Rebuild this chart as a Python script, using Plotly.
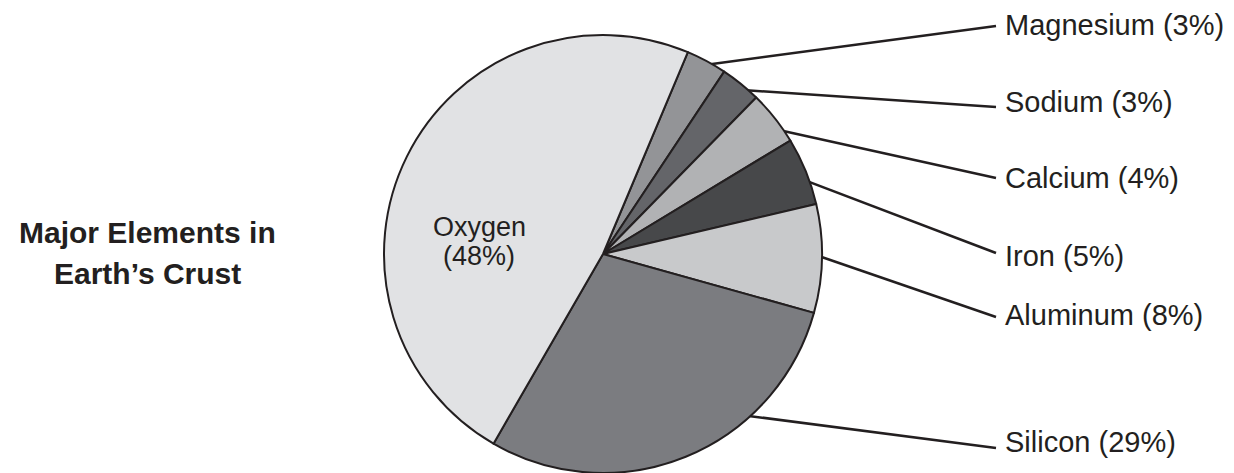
import numpy as np
import plotly.graph_objects as go

# Composition of Earth's crust, by mass
elements = ["Magnesium", "Sodium", "Calcium", "Iron", "Aluminum", "Silicon", "Oxygen"]
percent = [3, 3, 4, 5, 8, 29, 48]
slice_colors = ["#939497", "#646569", "#b1b2b4", "#47484a", "#c8c9cb", "#7b7c80", "#e1e2e4"]

# Callout labels (all slices except Oxygen, which is labelled inside)
callout_names = elements[:6]
callout_values = percent[:6]

W, H = 1234, 473
CX, CY, R = 603, 254, 219          # pie centre and radius in pixels
ROTATION = 22.8                    # start angle of the first slice, clockwise from 12 o'clock
LABEL_X = 1003
LINE_END_X = 996
label_y = [25, 102, 178, 256, 315, 442]
line_end_y = [26, 107, 178, 253, 317, 448]
anchor_frac = [0.47, 0.57, 0.69, 0.60, 0.47, 0.32]   # where along each slice the leader starts

FONT = "Liberation Sans, Arial, Helvetica, sans-serif"
INK = "#231f20"

fig = go.Figure()

fig.add_trace(go.Pie(
    labels=elements,
    values=percent,
    sort=False,
    direction="clockwise",
    rotation=ROTATION,
    marker=dict(colors=slice_colors, line=dict(color=INK, width=2)),
    textinfo="none",
    hoverinfo="label+percent",
    showlegend=False,
    domain=dict(x=[(CX - R) / W, (CX + R) / W],
                y=[(H - CY - R) / H, (H - CY + R) / H]),
))

# Leader lines from inside each slice out to its label
total = float(sum(percent))
starts = np.concatenate([[0], np.cumsum(percent)[:-1]])
xs, ys = [], []
for i, name in enumerate(callout_names):
    a0 = ROTATION + 360 * starts[i] / total
    span = 360 * percent[i] / total
    ang = np.radians(a0 + anchor_frac[i] * span)
    r = 0.975 * R
    x0 = CX + r * np.sin(ang)
    y0 = CY - r * np.cos(ang)
    xs += [x0, LINE_END_X, None]
    ys += [y0, line_end_y[i], None]

fig.add_trace(go.Scatter(
    x=xs, y=ys, mode="lines",
    line=dict(color=INK, width=2.5),
    hoverinfo="skip", showlegend=False,
))

annotations = []
for name, val, y in zip(callout_names, callout_values, label_y):
    annotations.append(dict(
        x=LABEL_X, y=y, xref="x", yref="y",
        text=f"{name} ({val}%)", showarrow=False,
        xanchor="left", yanchor="middle",
        font=dict(family=FONT, size=29, color=INK),
    ))

# Inside label for the largest slice
annotations.append(dict(x=479, y=227, xref="x", yref="y", text=elements[-1],
                        showarrow=False, xanchor="center", yanchor="middle",
                        font=dict(family=FONT, size=27, color=INK)))
annotations.append(dict(x=479, y=256, xref="x", yref="y", text=f"({percent[-1]}%)",
                        showarrow=False, xanchor="center", yanchor="middle",
                        font=dict(family=FONT, size=27, color=INK)))

# Chart title, left of the pie
annotations.append(dict(x=147, y=232, xref="x", yref="y", text="<b>Major Elements in</b>",
                        showarrow=False, xanchor="center", yanchor="middle",
                        font=dict(family=FONT, size=30, color=INK)))
annotations.append(dict(x=147, y=273, xref="x", yref="y", text="<b>Earth’s Crust</b>",
                        showarrow=False, xanchor="center", yanchor="middle",
                        font=dict(family=FONT, size=30, color=INK)))

fig.update_layout(
    width=W, height=H,
    margin=dict(l=0, r=0, t=0, b=0),
    paper_bgcolor="white", plot_bgcolor="rgba(0,0,0,0)",
    xaxis=dict(range=[0, W], visible=False, fixedrange=True, domain=[0, 1]),
    yaxis=dict(range=[H, 0], visible=False, fixedrange=True, domain=[0, 1]),
    annotations=annotations,
)

fig.write_html("out.html")
